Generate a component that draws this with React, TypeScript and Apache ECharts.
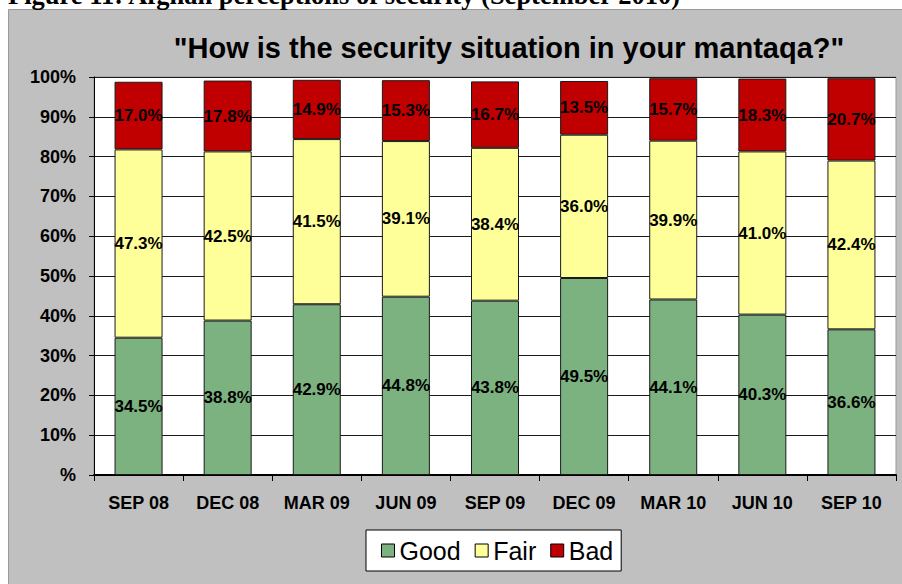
import React, { useEffect, useRef } from "react";
import * as echarts from "echarts";

const categories = ["SEP 08", "DEC 08", "MAR 09", "JUN 09", "SEP 09", "DEC 09", "MAR 10", "JUN 10", "SEP 10"];
const goodValues = [34.5, 38.8, 42.9, 44.8, 43.8, 49.5, 44.1, 40.3, 36.6];
const fairValues = [47.3, 42.5, 41.5, 39.1, 38.4, 36.0, 39.9, 41.0, 42.4];
const badValues = [17.0, 17.8, 14.9, 15.3, 16.7, 13.5, 15.7, 18.3, 20.7];
const seriesNames = ["Good", "Fair", "Bad"];
const seriesColors = ["#7CB27F", "#FFFF99", "#C00000"];
const chartTitle = '"How is the security situation in your mantaqa?"';
const caption = "Figure 11: Afghan perceptions of security (September 2010)";

const SANS = "'Liberation Sans', Arial, sans-serif";

export default function App() {
  const ref = useRef<HTMLDivElement>(null);
  useEffect(() => {
    if (!ref.current) return;
    const chart = echarts.init(ref.current, null, { renderer: "svg" });
    const dataSets = [goodValues, fairValues, badValues];
    chart.setOption({
      animation: false,
      backgroundColor: "#ffffff",
      graphic: [
        {
          type: "rect",
          z: -10,
          shape: { x: 8.5, y: 9.5, width: 900, height: 600 },
          style: { fill: "#C0C0C0", stroke: "#9a9a9a", lineWidth: 1 },
        },
        {
          type: "text",
          x: 8,
          y: 8,
          style: {
            text: caption,
            font: "bold 26.5px 'Liberation Serif', 'Times New Roman', serif",
            fill: "#000",
            verticalAlign: "bottom",
            align: "left",
          },
        },
        {
          type: "text",
          x: 509,
          y: 48,
          style: {
            text: chartTitle,
            font: `bold 29px ${SANS}`,
            fill: "#000",
            verticalAlign: "middle",
            align: "center",
          },
        },
      ],
      legend: {
        data: seriesNames,
        left: 366,
        top: 530,
        orient: "horizontal",
        backgroundColor: "#fff",
        borderColor: "#000",
        borderWidth: 1,
        borderRadius: 0,
        padding: [8, 8, 8, 15],
        itemGap: 14,
        itemWidth: 13,
        itemHeight: 13,
        icon: "rect",
        itemStyle: { borderColor: "#000", borderWidth: 1 },
        textStyle: { fontFamily: SANS, fontSize: 25, color: "#000", padding: [0, 0, 0, 0] },
      },
      grid: {
        left: 94,
        right: 6,
        top: 77,
        bottom: 109,
        show: true,
        backgroundColor: "#fff",
        borderColor: "#999",
        borderWidth: 1,
      },
      xAxis: {
        type: "category",
        data: categories,
        boundaryGap: true,
        axisLine: { show: true, lineStyle: { color: "#000", width: 2 } },
        axisTick: { show: true, length: 6, alignWithLabel: false, lineStyle: { color: "#000" } },
        axisLabel: {
          fontFamily: SANS,
          fontSize: 18,
          fontWeight: "bold",
          color: "#000",
          margin: 19,
          interval: 0,
        },
      },
      yAxis: {
        type: "value",
        min: 0,
        max: 100,
        interval: 10,
        axisLine: { show: true, lineStyle: { color: "#000", width: 1 } },
        axisTick: { show: true, length: 5, lineStyle: { color: "#000" } },
        splitLine: { show: true, lineStyle: { color: "#1a1a1a", width: 1 } },
        axisLabel: {
          fontFamily: SANS,
          fontSize: 18,
          fontWeight: "bold",
          color: "#000",
          margin: 18,
          formatter: (v: number) => (v === 0 ? "%" : `${v}%`),
        },
      },
      series: seriesNames.map((name, i) => ({
        name,
        type: "bar",
        stack: "total",
        barWidth: 48,
        data: dataSets[i],
        itemStyle: { color: seriesColors[i], borderColor: "#1a1a1a", borderWidth: 1 },
        label: {
          show: true,
          position: "inside",
          formatter: (p: any) => `${Number(p.value).toFixed(1)}%`,
          fontFamily: SANS,
          fontSize: 17,
          fontWeight: "bold",
          color: "#000",
          textBorderWidth: 0,
        },
      })),
    });
    return () => chart.dispose();
  }, []);
  return (
    <div
      ref={ref}
      style={{ position: "absolute", left: 0, top: 0, width: 902, height: 584 }}
    />
  );
}
